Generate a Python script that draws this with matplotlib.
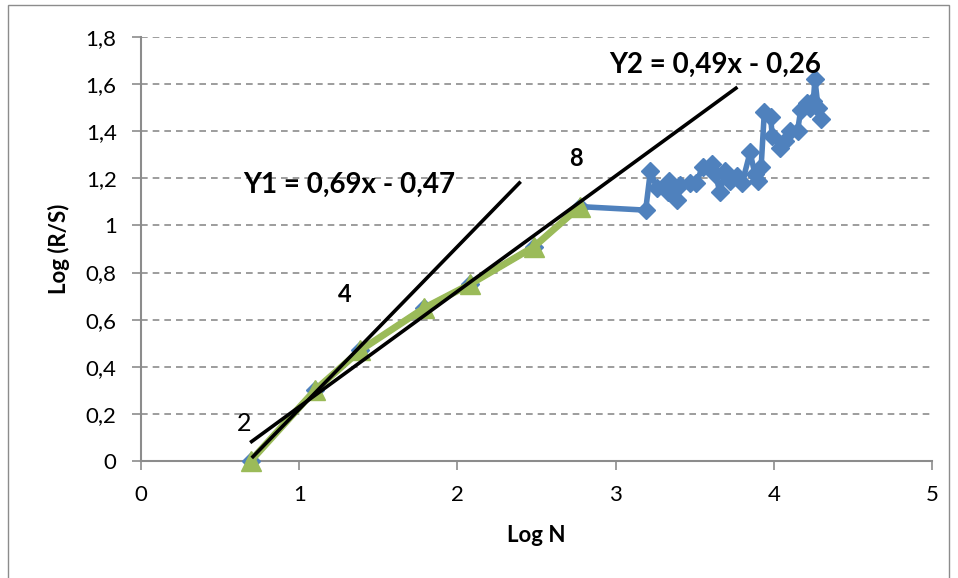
import matplotlib
matplotlib.use("Agg")
import matplotlib.pyplot as plt
from matplotlib.patches import Rectangle
import numpy as np

plt.rcParams['font.family'] = ['Lato', 'DejaVu Sans']

# Fitted region (N = 2 .. 16)
log_n_fit = [0.693, 1.099, 1.386, 1.792, 2.079, 2.485, 2.773]
log_rs_fit = [0.00, 0.30, 0.47, 0.65, 0.75, 0.91, 1.08]

# Full R/S series beyond the fitted region
log_n_tail = [3.19, 3.22, 3.26, 3.33, 3.34, 3.39, 3.41, 3.47, 3.51, 3.55,
              3.61, 3.63, 3.66, 3.69, 3.72, 3.77, 3.80, 3.85, 3.88, 3.90,
              3.92, 3.94, 3.98, 3.99, 4.04, 4.07, 4.10, 4.15, 4.17, 4.21,
              4.23, 4.25, 4.26, 4.28, 4.30]
log_rs_tail = [1.065, 1.23, 1.16, 1.14, 1.19, 1.11, 1.17, 1.18, 1.18, 1.25,
               1.26, 1.22, 1.14, 1.23, 1.19, 1.21, 1.18, 1.31, 1.22, 1.19,
               1.25, 1.48, 1.46, 1.38, 1.33, 1.36, 1.40, 1.40, 1.49, 1.52,
               1.50, 1.53, 1.62, 1.50, 1.45]

# Regression lines: slope, intercept, x range
y1_slope, y1_icpt, y1_range = 0.69, -0.47, [0.70, 2.40]
y2_slope, y2_icpt, y2_range = 0.49, -0.26, [0.69, 3.77]

x_ticks = [0, 1, 2, 3, 4, 5]
y_ticks = [0, 0.2, 0.4, 0.6, 0.8, 1.0, 1.2, 1.4, 1.6, 1.8]

fig = plt.figure(figsize=(9.58, 5.78), dpi=100)
fig.patches.append(Rectangle((8 / 958, -0.05), 941 / 958, 1 - 5 / 578 + 0.05,
                             transform=fig.transFigure, fill=False,
                             edgecolor='#8c8c8c', linewidth=1.0))
ax = fig.add_axes([141 / 958, 1 - 461 / 578, (932 - 141) / 958, (461 - 37) / 578])

blue = '#4F81BD'
green = '#9BBB59'
red = '#C0504D'

all_x = log_n_fit + log_n_tail
all_y = log_rs_fit + log_rs_tail
ax.plot(all_x, all_y, color=blue, linewidth=4, marker='D', markersize=9.5,
        zorder=3, clip_on=False)
ax.plot(log_n_fit, log_rs_fit, color=red, linewidth=0, marker='s',
        markersize=4, zorder=3.5, clip_on=False)
ax.plot(log_n_fit, log_rs_fit, color=green, linewidth=5, marker='^',
        markersize=14, zorder=4, clip_on=False)

for slope, icpt, xr in [(y1_slope, y1_icpt, y1_range), (y2_slope, y2_icpt, y2_range)]:
    xs = np.array(xr)
    ax.plot(xs, slope * xs + icpt, color='black', linewidth=2.6, zorder=5,
            solid_capstyle='butt')

ax.set_xlim(0, 5)
ax.set_ylim(0, 1.8)
ax.set_xticks(x_ticks)
ax.set_yticks(y_ticks)
ax.set_xticklabels([str(v) for v in x_ticks])
ax.set_yticklabels(['0' if v == 0 else ('1' if v == 1 else f'{v:.1f}'.replace('.', ','))
                    for v in y_ticks])
ax.tick_params(axis='both', labelsize=16, color='#8c8c8c', length=6.5, width=1.2,
               direction='out')
ax.tick_params(axis='y', pad=11)
ax.tick_params(axis='x', pad=11)

ax.yaxis.grid(True, linestyle=(0, (4, 3)), color='#8c8c8c', linewidth=1.2)
ax.set_axisbelow(True)
for side in ['top', 'right']:
    ax.spines[side].set_visible(False)
for side in ['left', 'bottom']:
    ax.spines[side].set_color('#8c8c8c')
    ax.spines[side].set_linewidth(1.5)

ax.set_xlabel('Log N', fontsize=16, fontweight='bold', labelpad=14)
ax.set_ylabel('Log (R/S)', fontsize=16, fontweight='bold', labelpad=11)

ax.text(0.607, 0.161, '2', fontsize=18, ha='left', va='center')
ax.text(1.245, 0.705, '4', fontsize=17, fontweight='bold', ha='left', va='center')
ax.text(2.705, 1.286, '8', fontsize=17, fontweight='bold', ha='left', va='center')
ax.text(0.645, 1.171, 'Y1 = 0,69x - 0,47', fontsize=20, fontweight='bold',
        ha='left', va='center')
ax.text(2.96, 1.68, 'Y2 = 0,49x - 0,26', fontsize=20, fontweight='bold',
        ha='left', va='center')

fig.savefig('out.png', dpi=100)
